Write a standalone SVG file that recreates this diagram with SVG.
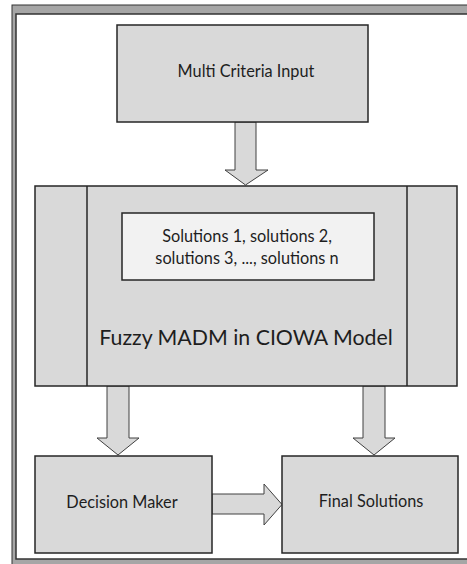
<svg xmlns="http://www.w3.org/2000/svg" width="467" height="564" viewBox="0 0 467 564">
<style>
.box{fill:#d9d9d9;stroke:#262626;stroke-width:1.5}
.inner{fill:#f2f2f2;stroke:#262626;stroke-width:1.5}
.arr{fill:#d9d9d9;stroke:#404040;stroke-width:1}
.t{font-family:Lato,"Open Sans",sans-serif;fill:#1e1e1e;text-anchor:middle}
.s{font-size:16.3px}
</style>
<rect width="467" height="564" fill="#ffffff"/>
<g id="frame">
<rect x="12" y="5" width="470" height="575" fill="#a6a6a6" stroke="#333" stroke-width="1"/>
<rect x="16" y="14" width="462" height="545" fill="#ffffff" stroke="#333" stroke-width="1.5"/>
</g>
<g id="connectors">
<path class="arr" d="M235,122 L256,122 L256,170 L268,170 L245.5,185 L225,170 L235,170 Z"/>
<path class="arr" d="M107,386 L129,386 L129,438 L139,438 L118,455 L97,438 L107,438 Z"/>
<path class="arr" d="M363,386 L385,386 L385,438 L395,438 L374,455 L353,438 L363,438 Z"/>
<path class="arr" d="M212,494 L264,494 L264,484 L282,504.5 L264,525 L264,514 L212,514 Z"/>
</g>
<g id="multi-criteria-input">
<rect class="box" x="117" y="25" width="251" height="97"/>
<text class="t s" x="246" y="77">Multi Criteria Input</text>
</g>
<g id="fuzzy-madm">
<rect class="box" x="35" y="186" width="422" height="200"/>
<line x1="87" y1="186" x2="87" y2="386" stroke="#262626" stroke-width="1.5"/>
<line x1="407" y1="186" x2="407" y2="386" stroke="#262626" stroke-width="1.5"/>
<text class="t" x="246" y="345" font-size="21.3">Fuzzy MADM in CIOWA Model</text>
</g>
<g id="solutions">
<rect class="inner" x="122" y="213" width="252" height="67"/>
<text class="t s" x="247" y="242">Solutions 1, solutions 2,</text>
<text class="t s" x="247" y="264">solutions 3, ..., solutions n</text>
</g>
<g id="decision-maker">
<rect class="box" x="35" y="456" width="177" height="97"/>
<text class="t s" x="122" y="508">Decision Maker</text>
</g>
<g id="final-solutions">
<rect class="box" x="282" y="456" width="176" height="97"/>
<text class="t s" x="371" y="507">Final Solutions</text>
</g>
</svg>
